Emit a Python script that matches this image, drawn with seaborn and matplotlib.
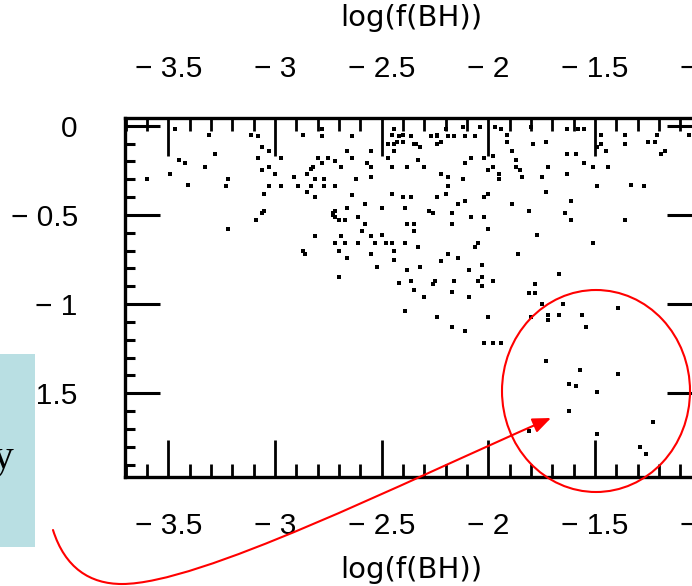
import matplotlib
matplotlib.use("Agg")
import matplotlib.pyplot as plt
import seaborn as sns
import pandas as pd
from matplotlib.ticker import MultipleLocator
from matplotlib.patches import Ellipse, Rectangle, FancyArrowPatch
from matplotlib.path import Path

# x = log(f(BH)), y = value on the (hidden) left axis
log_f_bh = [
    -3.47, -3.31, -3.11, -3.08, -3.06, -3.03, -3.28, -3.08, -3.45, -3.42,
    -3.33, -3.06, -3.03, -3.49, -3.60, -3.22, -3.41, -3.23, -3.03, -3.05,
    -3.05, -3.06, -3.09, -3.22,
    -2.87, -2.78, -2.78, -2.64, -2.44, -2.45, -2.40, -2.42, -2.43, -2.44,
    -2.40, -2.36, -2.47, -2.35, -2.66, -2.55, -2.44, -2.97, -2.80, -2.75,
    -2.64, -2.47, -2.72, -2.78, -2.57, -2.82, -2.83, -2.69, -2.55, -2.45,
    -2.38, -3.00, -2.85, -2.91, -2.81, -2.77, -2.62, -2.55, -2.97, -2.89,
    -2.83, -2.85, -2.77, -2.72, -2.81, -2.64, -2.45, -2.40, -2.36, -2.66,
    -2.58, -2.50, -2.39, -2.72, -2.73,
    -2.20, -2.24, -2.27, -2.24, -2.22, -2.24, -2.19, -2.16, -2.11, -2.06,
    -2.12, -2.04, -1.97, -1.94, -1.91, -1.80, -1.91, -1.79, -1.73, -2.34,
    -2.32, -1.89, -2.33, -2.08, -2.02, -1.98, -1.87, -2.11, -2.30, -1.98,
    -2.00, -1.87, -1.85, -1.72, -2.22, -1.95, -2.19, -1.84, -1.75, -2.12,
    -1.95, -2.19, -1.73, -2.20, -2.24, -2.00, -2.02, -2.11, -2.14, -1.89,
    -2.28, -2.26, -2.17, -1.81,
    -1.63, -1.58, -1.55, -1.47, -1.36, -1.21, -1.06, -1.47, -1.49, -1.45,
    -1.36, -1.25, -1.22, -1.17, -1.19, -1.63, -1.59, -1.55, -1.51, -1.44,
    -1.63, -1.49, -1.33, -1.27, -1.61, -1.64,
    -2.73, -2.72, -2.70, -2.67, -2.61, -2.58, -2.59, -2.38, -2.35, -2.35,
    -2.81, -2.69, -2.55, -2.50, -2.72, -2.67, -2.61, -2.53, -2.48, -2.45,
    -2.39, -2.87, -2.86, -2.70, -2.55, -2.44, -2.66, -2.44, -2.52, -2.38,
    -2.70, -2.42, -2.36, -2.35, -2.39,
    -2.08, -2.02, -2.17, -2.00, -1.77, -2.33, -2.05, -2.06, -2.19, -2.14,
    -1.86, -1.51, -2.22, -2.03, -2.32, -2.09, -2.26, -2.25, -2.16, -2.05,
    -2.03, -1.98, -2.03, -2.09, -2.17, -2.30, -1.78, -1.81, -1.78, -1.67,
    -1.75, -1.65, -1.39, -1.61, -1.36,
    -2.24, -2.00, -2.17, -2.11, -2.02, -1.98, -1.94, -1.80, -1.72, -1.72,
    -1.67, -1.56, -1.54, -1.73, -1.57, -1.39, -1.62, -1.59, -1.49, -1.62,
    -1.23, -1.81, -1.49, -1.29, -1.26,
]
y_value = [
    -0.02, -0.05, -0.05, -0.06, -0.12, -0.14, -0.16, -0.18, -0.19, -0.21,
    -0.23, -0.25, -0.23, -0.27, -0.30, -0.30, -0.33, -0.34, -0.34, -0.38,
    -0.48, -0.49, -0.53, -0.58,
    -0.05, -0.02, -0.06, -0.06, -0.02, -0.05, -0.05, -0.06, -0.09, -0.10,
    -0.09, -0.06, -0.10, -0.10, -0.14, -0.14, -0.14, -0.18, -0.18, -0.18,
    -0.18, -0.18, -0.20, -0.21, -0.21, -0.23, -0.24, -0.23, -0.23, -0.23,
    -0.23, -0.27, -0.27, -0.29, -0.30, -0.30, -0.30, -0.29, -0.34, -0.34,
    -0.34, -0.37, -0.34, -0.34, -0.40, -0.39, -0.38, -0.40, -0.40, -0.46,
    -0.44, -0.46, -0.46, -0.48, -0.49,
    -0.02, -0.05, -0.06, -0.06, -0.09, -0.10, -0.06, -0.06, -0.06, -0.06,
    -0.01, -0.01, -0.01, -0.02, -0.05, -0.01, -0.09, -0.10, -0.09, -0.10,
    -0.12, -0.14, -0.19, -0.18, -0.18, -0.17, -0.19, -0.21, -0.23, -0.23,
    -0.25, -0.23, -0.25, -0.23, -0.27, -0.27, -0.29, -0.29, -0.29, -0.30,
    -0.30, -0.34, -0.37, -0.38, -0.40, -0.38, -0.40, -0.42, -0.44, -0.44,
    -0.48, -0.49, -0.49, -0.48,
    -0.02, -0.02, -0.02, -0.05, -0.05, -0.05, -0.05, -0.10, -0.12, -0.14,
    -0.10, -0.09, -0.09, -0.14, -0.16, -0.16, -0.16, -0.21, -0.23, -0.23,
    -0.27, -0.34, -0.33, -0.34, -0.42, -0.49,
    -0.50, -0.51, -0.53, -0.53, -0.51, -0.55, -0.59, -0.55, -0.55, -0.59,
    -0.62, -0.62, -0.62, -0.61, -0.66, -0.66, -0.66, -0.66, -0.66, -0.66,
    -0.66, -0.70, -0.72, -0.70, -0.72, -0.70, -0.74, -0.75, -0.79, -0.81,
    -0.85, -0.88, -0.87, -0.92, -1.04,
    -0.51, -0.51, -0.55, -0.58, -0.61, -0.68, -0.66, -0.68, -0.72, -0.74,
    -0.72, -0.66, -0.76, -0.78, -0.79, -0.81, -0.89, -0.87, -0.87, -0.87,
    -0.85, -0.87, -0.90, -0.96, -0.93, -0.96, -0.89, -0.94, -0.94, -0.83,
    -1.00, -1.00, -1.02, -0.53, -0.53,
    -1.07, -1.07, -1.13, -1.15, -1.22, -1.22, -1.22, -1.07, -1.06, -1.09,
    -1.06, -1.06, -1.13, -1.32, -1.37, -1.39, -1.45, -1.46, -1.49, -1.60,
    -1.66, -1.71, -1.73, -1.80, -1.84,
]

x_ticks = [-3.5, -3.0, -2.5, -2.0, -1.5, -1.0]
x_tick_labels = ["\u2212 3.5", "\u2212 3", "\u2212 2.5", "\u2212 2", "\u2212 1.5", "\u2212 1"]
y_ticks = [0.0, -0.5, -1.0, -1.5]
y_tick_labels = ["0", "\u2212 0.5", "\u2212 1", "\u2212 1.5"]
x_label = "log(f(BH))"

W, H = 692, 586


def px(x, y):
    # pixel position (from top-left) -> figure fraction
    return x / W, 1 - y / H


sns.set_theme(style="ticks")
plt.rcParams["font.family"] = ["DejaVu Sans"]
plt.rcParams["text.color"] = "black"
plt.rcParams["axes.labelcolor"] = "black"
tick_font = {"family": ["Liberation Sans Narrow", "Liberation Sans", "DejaVu Sans"],
             "size": 21.5, "color": "black"}

df = pd.DataFrame({"log_f_bh": log_f_bh, "y": y_value})

fig = plt.figure(figsize=(W / 100, H / 100), dpi=100)
fig.patch.set_facecolor("white")
ax = fig.add_axes([125 / W, (H - 477) / H, (701.6 - 125) / W, (477 - 117.5) / H])
ax.set_facecolor("white")

sns.scatterplot(data=df, x="log_f_bh", y="y", ax=ax, marker="s", s=5,
                color="black", linewidth=0, legend=False)

ax.set_xlim(-3.703, -1.0)
ax.set_ylim(-1.969, 0.046)
ax.set_xticks(x_ticks)
ax.set_xticklabels(x_tick_labels, fontdict=tick_font)
ax.set_yticks(y_ticks)
ax.set_yticklabels(y_tick_labels, fontdict=tick_font)
ax.xaxis.set_minor_locator(MultipleLocator(0.1))
ax.yaxis.set_minor_locator(MultipleLocator(0.1))

ax.tick_params(axis="x", which="major", direction="in", length=27, width=2,
               top=True, bottom=True, labeltop=True, labelbottom=True, pad=25,
               color="black", labelcolor="black")
ax.tick_params(axis="x", which="minor", direction="in", length=9.5, width=2,
               top=True, bottom=True, color="black")
ax.tick_params(axis="y", which="major", direction="in", length=25, width=2.2,
               left=True, right=True, labelleft=True, labelright=False, pad=34,
               color="black", labelcolor="black")
ax.tick_params(axis="y", which="minor", direction="in", length=7, width=2.2,
               left=True, right=True, color="black")
for s in ax.spines.values():
    s.set_visible(True)
    s.set_linewidth(2.4)
    s.set_color("black")

ax.set_xlabel(x_label, fontsize=21, va="center", color="black")
ax.xaxis.set_label_coords(0.496, -0.259)
ax.set_ylabel("")
ax.text(0.496, 1.277, x_label, transform=ax.transAxes, fontsize=21,
        ha="center", va="center", color="black")

# light blue box on the left, covering part of the y tick labels
fig.add_artist(Rectangle(px(0, 547), 35 / W, (547 - 354) / H, transform=fig.transFigure,
                         facecolor="#B9DFE3", edgecolor="none", zorder=3))
fig.text(*px(13, 468), "y", family=["Liberation Serif", "DejaVu Serif"], fontsize=30,
         ha="right", va="baseline", zorder=4)

# red circle around the low points
fig.add_artist(Ellipse(px(596, 391), 188 / W, 202 / H, transform=fig.transFigure,
                       fill=False, edgecolor="red", linewidth=1.5, zorder=5))

# red curved arrow
verts = [px(53, 530), px(65, 568), px(90, 584), px(122, 584),
         px(200, 584), px(400, 484), px(551, 418)]
codes = [Path.MOVETO, Path.CURVE4, Path.CURVE4, Path.CURVE4,
         Path.CURVE4, Path.CURVE4, Path.CURVE4]
arrow = FancyArrowPatch(path=Path(verts, codes), arrowstyle="-|>,head_length=11,head_width=4.5",
                        mutation_scale=1, color="red", linewidth=1.5,
                        transform=fig.transFigure, zorder=5)
fig.add_artist(arrow)

fig.savefig("out.png", dpi=100)
plt.close(fig)
